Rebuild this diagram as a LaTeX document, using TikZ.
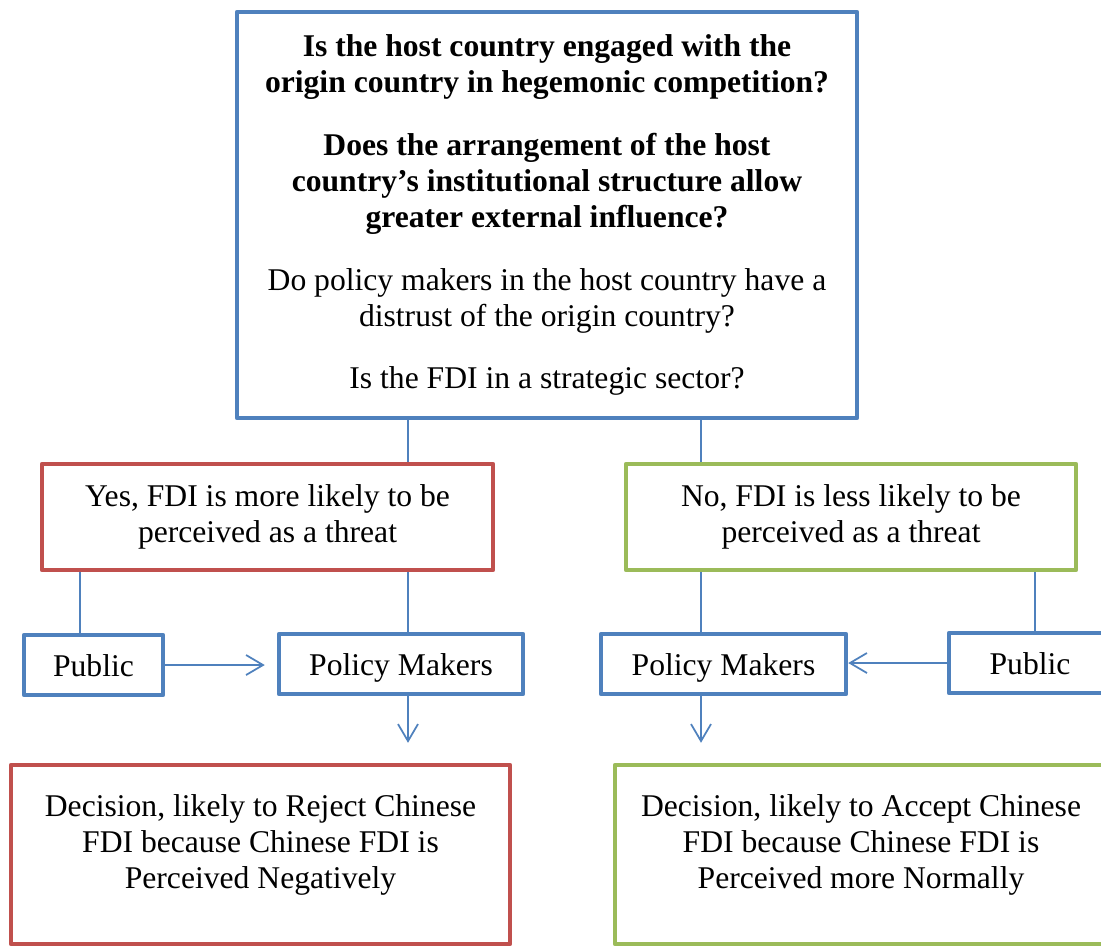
\documentclass[tikz,border=0pt]{standalone}
\usepackage{fontspec}
\setmainfont{Liberation Serif}
\usetikzlibrary{arrows.meta}
\definecolor{boxblue}{HTML}{4F81BD}
\definecolor{boxred}{HTML}{C0504D}
\definecolor{boxgreen}{HTML}{9BBB59}
\begin{document}
\begin{tikzpicture}[x=0.02cm, y=-0.02cm,
  box/.style={draw, line width=0.09cm, line join=round, inner sep=0pt, align=center, font=\fontsize{18}{20.7}\selectfont},
  actor/.style={box, boxblue, text=black, text height=0.5cm, text depth=0.06cm, minimum height=1.2cm},
  link/.style={draw=boxblue, line width=0.035cm},
  arr/.style={link, -{Straight Barb[length=0.34cm, width=0.4cm]}}]
\useasboundingbox (0,0) rectangle (1101,948);
% question box
\node[box, boxblue, text=black, minimum width=12.4cm, minimum height=8.12cm] (q) at (547,215){%
\textbf{Is the host country engaged with the}\\
\textbf{origin country in hegemonic competition?}\\[0.52cm]
\textbf{Does the arrangement of the host}\\
\textbf{country’s institutional structure allow}\\
\textbf{greater external influence?}\\[0.52cm]
Do policy makers in the host country have a\\
distrust of the origin country?\\[0.52cm]
Is the FDI in a strategic sector?};
% yes / no
\node[box, boxred, text=black, minimum width=9.02cm, minimum height=2.12cm] (yes) at (267.5,517){Yes, FDI is more likely to be\\perceived as a threat};
\node[box, boxgreen, text=black, minimum width=9cm, minimum height=2.12cm] (no) at (851,517){No, FDI is less likely to be\\perceived as a threat};
% actors
\node[actor, minimum width=2.78cm] (pubL) at (93.5,665){Public};
\node[actor, minimum width=4.88cm] (pmL) at (401,664){Policy Makers};
\node[actor, minimum width=4.9cm] (pmR) at (723.5,664){Policy Makers};
\node[actor, minimum width=3.24cm] (pubR) at (1030,663){Public};
% decisions
\node[box, boxred, text=black, text depth=0.52cm, minimum width=9.98cm, minimum height=3.58cm] (decL) at (260.5,854.5){Decision, likely to Reject Chinese\\FDI because Chinese FDI is\\Perceived Negatively};
\node[box, boxgreen, text=black, text depth=0.52cm, minimum width=9.84cm, minimum height=3.58cm] (decR) at (861,854.5){Decision, likely to Accept Chinese\\FDI because Chinese FDI is\\Perceived more Normally};
% connectors
\coordinate (colA) at (80,0);
\coordinate (colB) at (408,0);
\coordinate (colC) at (701,0);
\coordinate (colD) at (1035,0);
\draw[link] (q.south -| colB) -- (yes.north -| colB);
\draw[link] (q.south -| colC) -- (no.north -| colC);
\draw[link] (yes.south -| colA) -- (pubL.north -| colA);
\draw[link] (yes.south -| colB) -- (pmL.north -| colB);
\draw[link] (no.south -| colC) -- (pmR.north -| colC);
\draw[link] (no.south -| colD) -- (pubR.north -| colD);
\draw[arr, shorten >=0.24cm] (pubL.east) -- (pubL.east -| pmL.west);
\draw[arr] (pubR.west) -- (pubR.west -| pmR.east);
\draw[arr, shorten >=0.4cm] (pmL.south -| colB) -- (decL.north -| colB);
\draw[arr, shorten >=0.4cm] (pmR.south -| colC) -- (decR.north -| colC);
\end{tikzpicture}
\end{document}
